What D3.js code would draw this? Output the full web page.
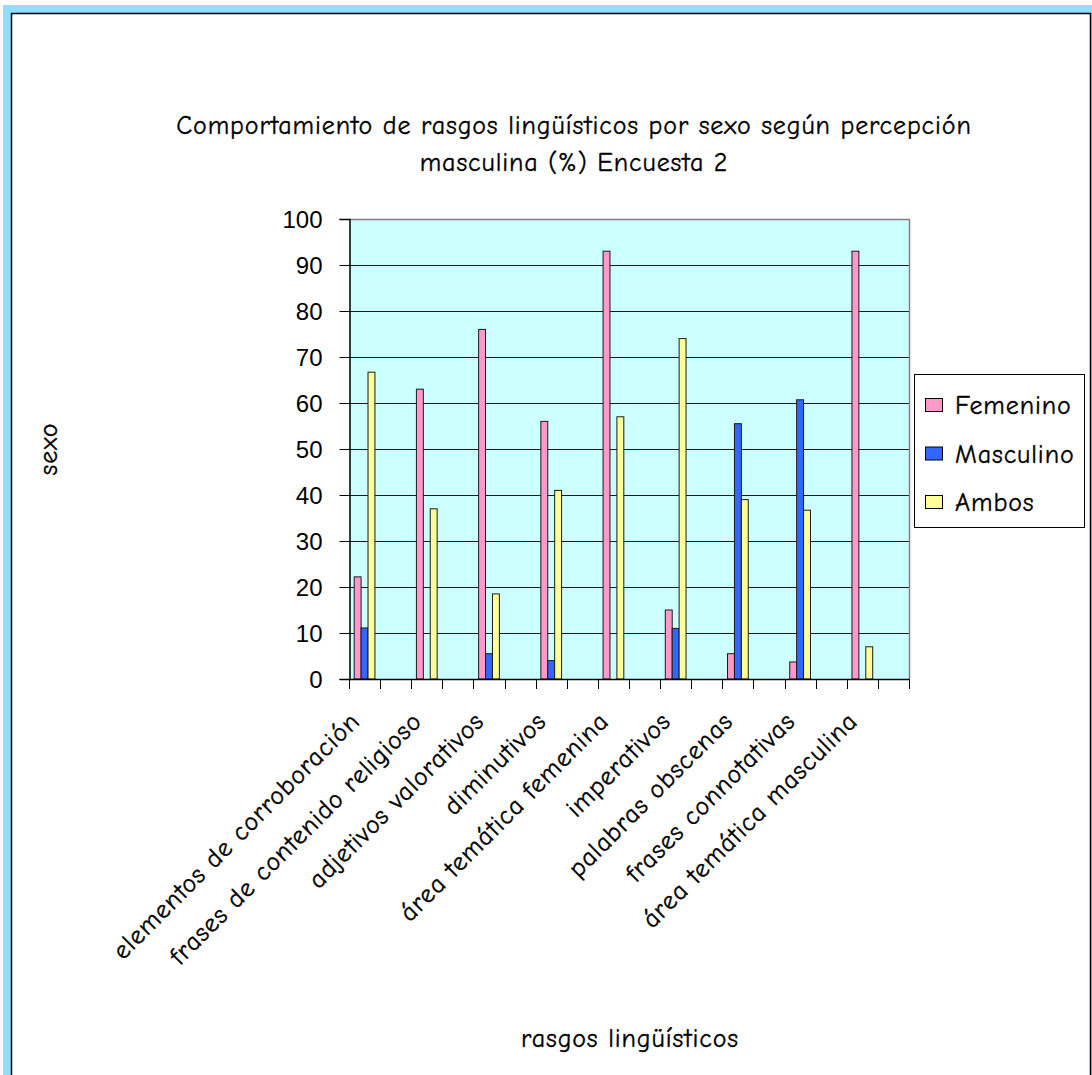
<!DOCTYPE html>
<html>
<head>
<meta charset="utf-8">
<script src="https://cdn.jsdelivr.net/npm/d3@7"></script>
<style>
  html, body { margin: 0; padding: 0; background: #ffffff; }
  svg { display: block; }
  .comic { font-family: "Comic Sans MS", "Comic Neue", "DejaVu Sans", sans-serif; fill: #000; stroke: #000; stroke-width: 0.35px; font-size: 26px; letter-spacing: 0.9px; }
  .num { font-family: "Liberation Sans", Arial, sans-serif; fill: #000; font-size: 24px; }
</style>
</head>
<body>
<script>
// Survey results: linguistic traits by sex, as perceived by men (%)
const categories = [
  "elementos de corroboración",
  "frases de contenido religioso",
  "adjetivos valorativos",
  "diminutivos",
  "área temática femenina",
  "imperativos",
  "palabras obscenas",
  "frases connotativas",
  "área temática masculina"
];
const seriesNames = ["Femenino", "Masculino", "Ambos"];
const femenino  = [22.2, 63, 76, 56, 93, 15, 5.5, 3.7, 93];
const masculino = [11.1, null, 5.5, 4, null, 11, 55.5, 60.7, null];
const ambos     = [66.7, 37, 18.5, 41, 57, 74, 39, 36.7, 7];
const yTicks = [0, 10, 20, 30, 40, 50, 60, 70, 80, 90, 100];

const title1 = "Comportamiento de rasgos lingüísticos por sexo según percepción";
const title2 = "masculina (%) Encuesta 2";
const xTitle = "rasgos lingüísticos";
const yTitle = "sexo";

const colors = { Femenino: "#FF99CC", Masculino: "#3366FF", Ambos: "#FFFF99" };
const seriesValues = { Femenino: femenino, Masculino: masculino, Ambos: ambos };

const W = 1092, H = 1075;
const svg = d3.select("body").append("svg").attr("width", W).attr("height", H);

// outer frame
svg.append("rect").attr("x", 3).attr("y", 5).attr("width", W).attr("height", H)
  .attr("fill", "#92DFFD");
svg.append("rect").attr("x", 11.5).attr("y", 13.5).attr("width", 1079).attr("height", H)
  .attr("fill", "#ffffff").attr("stroke", "#000").attr("stroke-width", 1.5);

const plot = { left: 349, right: 909, top: 219, bottom: 679 };

// each category sits in the first of two slots along the axis
const slots = d3.range(categories.length * 2);
const x = d3.scaleBand().domain(slots).range([plot.left, plot.right]).paddingInner(0).paddingOuter(0);
const xs = d3.scaleBand().domain(seriesNames).range([0, x.bandwidth()]).paddingInner(0).paddingOuter(0.75);
const y = d3.scaleLinear().domain([0, 100]).range([plot.bottom, plot.top]);

// plot background
svg.append("rect")
  .attr("x", plot.left).attr("y", plot.top)
  .attr("width", plot.right - plot.left).attr("height", plot.bottom - plot.top)
  .attr("fill", "#CCFFFF");

// gridlines
svg.append("g").selectAll("line").data(yTicks.filter(d => d > 0 && d < 100)).join("line")
  .attr("x1", plot.left).attr("x2", plot.right)
  .attr("y1", d => Math.round(y(d)) + 0.5).attr("y2", d => Math.round(y(d)) + 0.5)
  .attr("stroke", "#1a1a1a").attr("stroke-width", 1);

// plot border (top and right)
svg.append("path")
  .attr("d", `M${plot.left},${plot.top + 0.5}H${plot.right + 0.5}V${plot.bottom}`)
  .attr("fill", "none").attr("stroke", "#808080").attr("stroke-width", 1.5);

// bars
const barData = [];
categories.forEach((c, i) => {
  seriesNames.forEach(s => {
    const v = seriesValues[s][i];
    if (v != null) barData.push({ cat: i, series: s, value: v });
  });
});
svg.append("g").selectAll("rect").data(barData).join("rect")
  .attr("x", d => x(d.cat * 2) + xs(d.series))
  .attr("y", d => y(d.value))
  .attr("width", xs.bandwidth())
  .attr("height", d => y(0) - y(d.value))
  .attr("fill", d => colors[d.series])
  .attr("stroke", "#1a1a1a").attr("stroke-width", 1);

// y axis
const yAxis = d3.axisLeft(y).tickValues(yTicks).tickSize(10).tickPadding(17).tickFormat(d3.format("d"));
const gy = svg.append("g").attr("transform", `translate(${plot.left + 0.5},0)`).call(yAxis);
gy.attr("font-family", null).attr("font-size", null);
gy.select(".domain").attr("stroke", "#000").attr("stroke-width", 1.5);
gy.selectAll(".tick line").attr("stroke", "#000");
gy.selectAll(".tick text").attr("class", "num").attr("dy", "0.36em");
gy.selectAll(".tick").attr("transform", d => `translate(0,${Math.round(y(d)) + 0.5})`);

// x axis with tick marks at every slot boundary
const boundaries = slots.map(s => x(s)).concat([plot.right]);
const gx = svg.append("g");
gx.append("line").attr("x1", plot.left).attr("x2", plot.right + 0.5)
  .attr("y1", plot.bottom + 0.5).attr("y2", plot.bottom + 0.5)
  .attr("stroke", "#000").attr("stroke-width", 1.5);
gx.selectAll("line.tk").data(boundaries).join("line").attr("class", "tk")
  .attr("x1", d => Math.round(d) + 0.5).attr("x2", d => Math.round(d) + 0.5)
  .attr("y1", plot.bottom).attr("y2", plot.bottom + 10)
  .attr("stroke", "#000").attr("stroke-width", 1);

// rotated category labels
gx.selectAll("text").data(categories).join("text")
  .attr("class", "comic")
  .attr("text-anchor", "end")
  .attr("dominant-baseline", "central")
  .attr("transform", (d, i) => `translate(${x(i * 2) + x.bandwidth() / 2 - 9},${plot.bottom + 38}) rotate(-45)`)
  .text(d => d);

// titles
svg.append("text").attr("class", "comic").attr("text-anchor", "middle")
  .attr("x", 574).attr("y", 134).text(title1);
svg.append("text").attr("class", "comic").attr("text-anchor", "middle")
  .attr("x", 574).attr("y", 171).text(title2);
svg.append("text").attr("class", "comic").attr("text-anchor", "middle")
  .attr("x", (plot.left + plot.right) / 2 + 1).attr("y", 1047).text(xTitle);
svg.append("text").attr("class", "comic").attr("text-anchor", "middle")
  .attr("transform", `translate(57,449) rotate(-90)`).text(yTitle);

// legend
const lg = svg.append("g");
lg.append("rect").attr("x", 914.5).attr("y", 374.5).attr("width", 170).attr("height", 153)
  .attr("fill", "#fff").attr("stroke", "#000").attr("stroke-width", 1);
const items = lg.selectAll("g.item").data(seriesNames).join("g").attr("class", "item")
  .attr("transform", (d, i) => `translate(925,${405 + i * 48.5})`);
items.append("rect").attr("x", 0.5).attr("y", -6.5).attr("width", 17).attr("height", 13)
  .attr("fill", d => colors[d]).attr("stroke", "#000").attr("stroke-width", 1);
items.append("text").attr("class", "comic")
  .attr("x", 30).attr("dy", "0.35em").text(d => d);
</script>
</body>
</html>
